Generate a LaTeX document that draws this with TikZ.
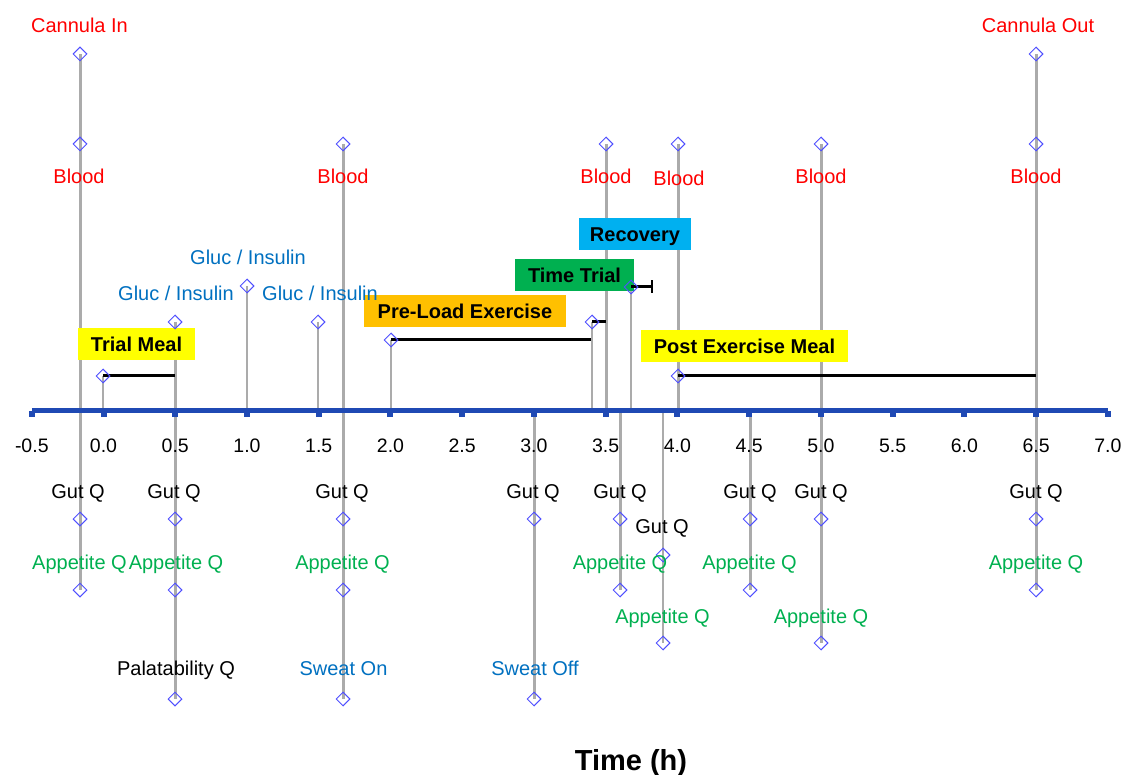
\documentclass[tikz,border=0pt]{standalone}
\usepackage{fontspec}
\setmainfont{Liberation Sans}
\usetikzlibrary{shapes.geometric,arrows.meta}
\definecolor{cred}{HTML}{FF0000}
\definecolor{cblue}{HTML}{0070C0}
\definecolor{cgreen}{HTML}{00B050}
\definecolor{cyellow}{HTML}{FFFF00}
\definecolor{corange}{HTML}{FFC000}
\definecolor{ctt}{HTML}{00B050}
\definecolor{crec}{HTML}{00B0F0}
\definecolor{axisblue}{HTML}{1F49B4}
\definecolor{diablue}{HTML}{4F4FFF}
\definecolor{vgrey}{HTML}{ABABAB}
\begin{document}
\begin{tikzpicture}[x=1pt,y=-1pt,
  dia/.style={diamond, draw=diablue, line width=1pt, inner sep=0pt, minimum width=14pt, minimum height=14pt},
  lab/.style={anchor=base, inner sep=0pt, font=\fontsize{20}{24}\selectfont},
  redlab/.style={lab, text=cred},
  bluelab/.style={lab, text=cblue},
  greenlab/.style={lab, text=cgreen},
  blacklab/.style={lab, text=black},
  ticklab/.style={lab, font=\fontsize{19.5}{24}\selectfont},
  evbox/.style={font=\bfseries\fontsize{20}{24}\selectfont, inner sep=0pt, text height=14.5pt, text depth=0pt, minimum height=32pt},
  vmain/.style={draw=vgrey, line width=3pt},
  vthin/.style={draw=vgrey, line width=2.2pt},
  durbar/.style={draw=black, line width=3pt}
]
\useasboundingbox (0,0) rectangle (1130,775);

% ---- coordinates on the axis ----
\coordinate (axL) at (31.8,411);
\coordinate (axR) at (1107.8,411);
\foreach \x in {103,247,318,391,534,592,606,620,631,663,678,750}{
  \coordinate (ax\x) at (\x,411);
}
\coordinate (tmE) at (175,376);
\coordinate (plE) at (591,340);
\coordinate (ttE) at (606,322);
\coordinate (rcE) at (653,287);
\coordinate (pemE) at (1036,376);

% ---- marker positions (coordinates first, diamonds drawn later) ----
\coordinate (cin) at (80,54);
\coordinate (cout) at (1036,54);
\coordinate (b1) at (80,144);
\coordinate (b2) at (343,144);
\coordinate (b3) at (606,144);
\coordinate (b4) at (678,144);
\coordinate (b5) at (821,144);
\coordinate (b6) at (1036,144);
\coordinate (g1) at (175,322);
\coordinate (g2) at (247,286);
\coordinate (g3) at (318,322);
\coordinate (tm) at (103,376);
\coordinate (pl) at (391,340);
\coordinate (tt) at (592,322);
\coordinate (rc) at (631,287);
\coordinate (pem) at (678,376);
\coordinate (q1) at (80,519);
\coordinate (q2) at (175,519);
\coordinate (q3) at (343,519);
\coordinate (q4) at (534,519);
\coordinate (q5) at (620,519);
\coordinate (q6) at (663,555);
\coordinate (q7) at (750,519);
\coordinate (q8) at (821,519);
\coordinate (q9) at (1036,519);
\coordinate (a1) at (80,590);
\coordinate (a2) at (175,590);
\coordinate (a3) at (343,590);
\coordinate (a4) at (620,590);
\coordinate (a5) at (663,643);
\coordinate (a6) at (750,590);
\coordinate (a7) at (821,643);
\coordinate (a8) at (1036,590);
\coordinate (pal) at (175,699);
\coordinate (swon) at (343,699);
\coordinate (swoff) at (534,699);

% ---- grey drop lines ----
\draw[vmain] (cin) -- (a1);
\draw[vmain] (g1) -- (pal);
\draw[vthin] (g2) -- (ax247);
\draw[vthin] (g3) -- (ax318);
\draw[vthin] (tm) -- (ax103);
\draw[vmain] (b2) -- (swon);
\draw[vthin] (pl) -- (ax391);
\draw[vmain] (ax534) -- (swoff);
\draw[vthin] (tt) -- (ax592);
\draw[vmain] (b3) -- (ax606);
\draw[vmain] (ax620) -- (a4);
\draw[vthin] (rc) -- (ax631);
\draw[vthin] (ax663) -- (a5);
\draw[vmain] (b4) -- (ax678);
\draw[vmain] (ax750) -- (a6);
\draw[vmain] (b5) -- (a7);
\draw[vmain] (cout) -- (a8);

% ---- axis ----
\draw[axisblue, line width=5pt] (axL) -- (axR);
\foreach \i/\l in {0/-0.5,1/0.0,2/0.5,3/1.0,4/1.5,5/2.0,6/2.5,7/3.0,8/3.5,9/4.0,10/4.5,11/5.0,12/5.5,13/6.0,14/6.5,15/7.0}{
  \pgfmathsetmacro{\xx}{31.8+71.733*\i}
  \fill[axisblue] (\xx-3,411) rectangle (\xx+3,417);
  \node[ticklab] (tl\i) at (\xx,453) {\l};
}

% ---- event boxes ----
\node[evbox, fill=cyellow, minimum width=117pt] (trialmeal) at (136.5,344.5) {Trial Meal};
\node[evbox, fill=corange, minimum width=202pt] (preload) at (465,311) {Pre-Load Exercise};
\node[evbox, fill=ctt, minimum width=119pt] (timetrial) at (574.5,275) {Time Trial};
\node[evbox, fill=crec, minimum width=112pt] (recovery) at (635,234) {Recovery};
\node[evbox, fill=cyellow, minimum width=207pt] (postmeal) at (744.5,346) {Post Exercise Meal};

% ---- duration bars ----
\draw[durbar] (tm) -- (tmE);
\draw[durbar] (pl) -- (plE);
\draw[durbar] (tt) -- (ttE);
\draw[durbar, -{Bar[width=13pt,line width=2.5pt]}] (rc) -- (rcE);
\draw[durbar] (pem) -- (pemE);

% ---- diamond markers (unfilled, on top) ----
\foreach \m in {cin,cout,b1,b2,b3,b4,b5,b6,g1,g2,g3,tm,pl,tt,rc,pem,q1,q2,q3,q4,q5,q6,q7,q8,q9,a1,a2,a3,a4,a5,a6,a7,a8,pal,swon,swoff}{
  \node[dia] (m-\m) at (\m) {};
}

% ---- labels above axis ----
\node[redlab] (tcin) at (79.5,33) {Cannula In};
\node[redlab] (tcout) at (1038,33) {Cannula Out};
\node[redlab] (tb1) at (79,184) {Blood};
\node[redlab] (tb2) at (343,184) {Blood};
\node[redlab] (tb3) at (606,184) {Blood};
\node[redlab] (tb4) at (679,186) {Blood};
\node[redlab] (tb5) at (821,184) {Blood};
\node[redlab] (tb6) at (1036,184) {Blood};
\node[bluelab] (tg2) at (248,265) {Gluc / Insulin};
\node[bluelab] (tg1) at (176,301) {Gluc / Insulin};
\node[bluelab] (tg3) at (320,301) {Gluc / Insulin};

% ---- labels below axis ----
\node[blacklab] (tq1) at (78,498) {Gut Q};
\node[blacklab] (tq2) at (174,498) {Gut Q};
\node[blacklab] (tq3) at (342,498) {Gut Q};
\node[blacklab] (tq4) at (533,498) {Gut Q};
\node[blacklab] (tq5) at (620,498) {Gut Q};
\node[blacklab] (tq6) at (662,533) {Gut Q};
\node[blacklab] (tq7) at (750,498) {Gut Q};
\node[blacklab] (tq8) at (821,498) {Gut Q};
\node[blacklab] (tq9) at (1036,498) {Gut Q};
\node[greenlab] (ta1) at (79.5,569) {Appetite Q};
\node[greenlab] (ta2) at (176,569) {Appetite Q};
\node[greenlab] (ta3) at (342.5,569) {Appetite Q};
\node[greenlab] (ta4) at (620,569) {Appetite Q};
\node[greenlab] (ta5) at (662.5,623) {Appetite Q};
\node[greenlab] (ta6) at (749.5,569) {Appetite Q};
\node[greenlab] (ta7) at (821,623) {Appetite Q};
\node[greenlab] (ta8) at (1036,569) {Appetite Q};
\node[blacklab] (tpal) at (176,675) {Palatability Q};
\node[bluelab] (tswon) at (343.5,675) {Sweat On};
\node[bluelab] (tswoff) at (535,675) {Sweat Off};

\node[anchor=base, inner sep=0pt, font=\bfseries\fontsize{29}{34}\selectfont] (xtitle) at (631,770) {Time (h)};
\end{tikzpicture}
\end{document}
